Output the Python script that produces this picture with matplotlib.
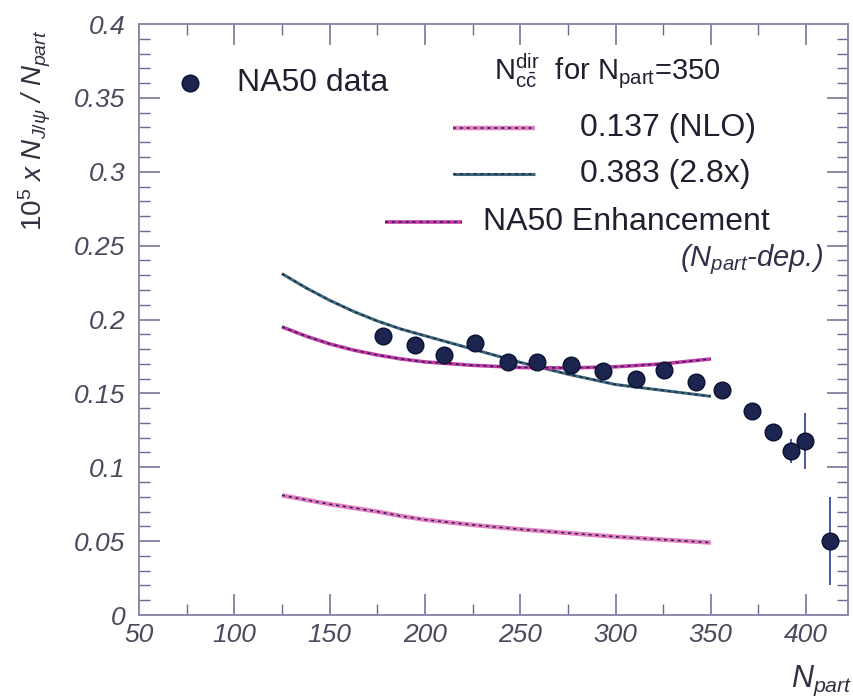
import numpy as np
import matplotlib.pyplot as plt
from matplotlib.ticker import MultipleLocator, FixedLocator, FixedFormatter

plt.rcParams['font.family'] = ['Liberation Sans', 'DejaVu Sans']
plt.rcParams['mathtext.fontset'] = 'custom'
plt.rcParams['mathtext.rm'] = 'Liberation Sans'
plt.rcParams['mathtext.it'] = 'Liberation Sans:italic'

# NA50 J/psi per participant
npart_data = [178, 195, 210, 226.5, 243.5, 259, 276.5, 293.5, 311, 325.5,
              342, 356, 371.5, 382.5, 392, 399.5, 412.5]
jpsi_data = [0.189, 0.183, 0.176, 0.184, 0.171, 0.171, 0.169, 0.165, 0.160,
             0.166, 0.158, 0.152, 0.138, 0.124, 0.111, 0.118, 0.050]
jpsi_err = [0.003, 0.003, 0.003, 0.003, 0.003, 0.003, 0.003, 0.003, 0.003,
            0.003, 0.003, 0.003, 0.004, 0.004, 0.008, 0.019, 0.030]

# model curves
npart_curve = [125, 137.5, 150, 162.5, 175, 187.5, 200, 225, 250, 275, 300, 325, 350]
nlo_curve = [0.081, 0.078, 0.075, 0.0725, 0.070, 0.067, 0.0645, 0.061, 0.058,
             0.0555, 0.053, 0.051, 0.049]
x28_curve = [0.231, 0.2215, 0.213, 0.2055, 0.199, 0.1935, 0.189, 0.180, 0.171,
             0.163, 0.156, 0.152, 0.148]
enh_curve = [0.195, 0.1888, 0.1835, 0.1793, 0.176, 0.1733, 0.1713, 0.169, 0.1675,
             0.1672, 0.168, 0.170, 0.1733]

xticks = [50, 100, 150, 200, 250, 300, 350, 400]
yticks = [0, 0.05, 0.1, 0.15, 0.2, 0.25, 0.3, 0.35, 0.4]
ytick_labels = ['0', '0.05', '0.1', '0.15', '0.2', '0.25', '0.3', '0.35', '0.4']

pink = '#e47cc0'
magenta = '#c83aa8'
teal = '#3e6a78'
dark = '#1c2450'

fig = plt.figure(figsize=(8.54, 6.98), dpi=100)
ax = fig.add_axes([0.1628, 0.1189, 0.8302, 0.8467])

def band(y, base, lw=3.2):
    ax.plot(npart_curve, y, color=base, lw=lw, solid_capstyle='butt')
    ax.plot(npart_curve, y, color=dark, lw=1.1, ls=(0, (2, 2.5)))

band(nlo_curve, pink)
band(x28_curve, teal, lw=2.2)
band(enh_curve, magenta, lw=2.6)

ax.errorbar(npart_data, jpsi_data, yerr=jpsi_err, fmt='o', color=dark,
            ecolor='#3a4a9a', elinewidth=1.3, markersize=12, capsize=0,
            markeredgecolor='#0a1030', zorder=5)

ax.set_xlim(50, 422)
ax.set_ylim(0, 0.4)
ax.xaxis.set_major_locator(FixedLocator(xticks))
ax.xaxis.set_minor_locator(MultipleLocator(25))
ax.yaxis.set_major_locator(FixedLocator(yticks))
ax.yaxis.set_major_formatter(FixedFormatter(ytick_labels))
ax.yaxis.set_minor_locator(MultipleLocator(0.01))
ax.tick_params(which='both', direction='in', top=True, right=True,
               colors='#6a6a90', labelcolor='#4a4a5c')
ax.tick_params(which='major', length=15, width=1.1, labelsize=19)
ax.tick_params(which='minor', length=8, width=1.0)
ax.tick_params(axis='y', pad=10)
ax.tick_params(axis='x', pad=6)
for lab in ax.get_xticklabels() + ax.get_yticklabels():
    lab.set_fontstyle('italic')
for s in ax.spines.values():
    s.set_color('#8a8ab0')
    s.set_linewidth(1.4)

# legend block
ax.plot([0.072], [0.900], 'o', color=dark, markersize=12, transform=ax.transAxes,
        markeredgecolor='#0a1030', clip_on=False)
ax.text(0.138, 0.900, 'NA50 data', transform=ax.transAxes, fontsize=23,
        va='center', ha='left', color='#202030')
ax.text(0.500, 0.919,
        r'$\mathrm{N}_{\mathrm{c\bar{c}}}^{\mathrm{dir}}$  for $\mathrm{N}_{\mathrm{part}}$=350',
        transform=ax.transAxes, fontsize=21, va='center', ha='left', color='#202030')

for y, base, lw in [(0.824, pink, 3.2), (0.746, teal, 2.2)]:
    ax.plot([0.443, 0.559], [y, y], color=base, lw=lw, transform=ax.transAxes,
            solid_capstyle='butt', clip_on=False)
    ax.plot([0.443, 0.559], [y, y], color=dark, lw=1.1, ls=(0, (2, 2.5)),
            transform=ax.transAxes, clip_on=False)
ax.text(0.622, 0.824, '0.137 (NLO)', transform=ax.transAxes, fontsize=23,
        va='center', ha='left', color='#202030')
ax.text(0.622, 0.746, '0.383 (2.8x)', transform=ax.transAxes, fontsize=23,
        va='center', ha='left', color='#202030')

ax.plot([0.347, 0.456], [0.665, 0.665], color=magenta, lw=2.6,
        transform=ax.transAxes, solid_capstyle='butt', clip_on=False)
ax.plot([0.347, 0.456], [0.665, 0.665], color=dark, lw=1.1, ls=(0, (2, 2.5)),
        transform=ax.transAxes, clip_on=False)
ax.text(0.485, 0.665, 'NA50 Enhancement', transform=ax.transAxes, fontsize=23,
        va='center', ha='left', color='#202030')
ax.text(0.965, 0.601, r'($N_{part}$-dep.)', transform=ax.transAxes, fontsize=21,
        va='center', ha='right', color='#303048', style='italic')

fig.text(0.041, 0.814, r'$10^5$ x $N_{J/\psi}$ / $N_{part}$', rotation=90,
         ha='center', va='center', fontsize=20, color='#303040', style='italic')
fig.text(0.998, 0.025, r'$N_{part}$', ha='right', va='center', fontsize=22,
         color='#303040')

fig.savefig('out.png', dpi=100)
